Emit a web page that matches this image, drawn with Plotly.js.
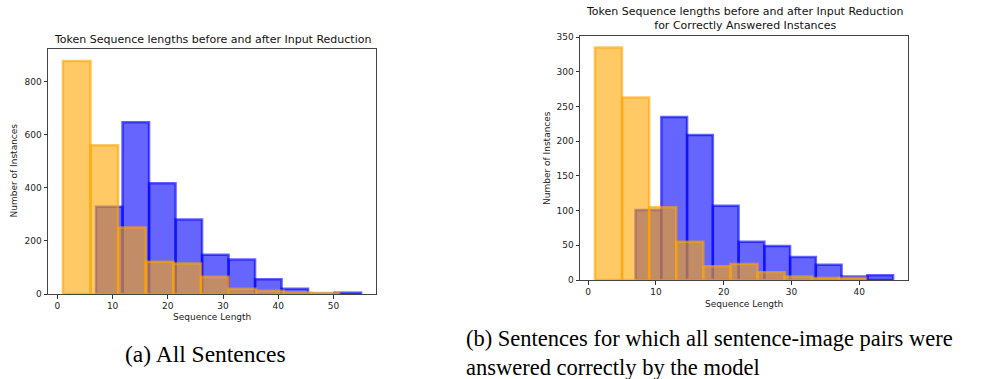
<!DOCTYPE html>
<html>
<head>
<meta charset="utf-8">
<script src="https://cdn.plot.ly/plotly-3.0.1.min.js"></script>
<style>html,body{margin:0;padding:0;background:#fff;}#chart{width:1004px;height:379px;}</style>
</head>
<body>
<div id="chart"></div>
<script>
// (a) All Sentences
const leftBeforeEdges = [7, 11.8, 16.6, 21.4, 26.2, 31, 35.8, 40.6, 45.4, 50.2, 55];
const leftBeforeCounts = [329, 648, 418, 281, 148, 130, 56, 20, 1, 5];
const leftAfterEdges = [1, 6, 11, 16, 21, 26, 31, 36, 41, 46, 51];
const leftAfterCounts = [879, 561, 251, 122, 115, 65, 20, 12, 6, 4];
// (b) Correctly answered
const rightBeforeEdges = [7, 10.8, 14.6, 18.4, 22.2, 26, 29.8, 33.6, 37.4, 41.2, 45];
const rightBeforeCounts = [101, 235, 209, 107, 55, 49, 33, 22, 5, 7];
const rightAfterEdges = [1, 5, 9, 13, 17, 21, 25, 29, 33, 37, 41];
const rightAfterCounts = [335, 263, 105, 55, 20, 23, 11, 5, 3, 3];

const leftXTicks = [0, 10, 20, 30, 40, 50];
const leftYTicks = [0, 200, 400, 600, 800];
const rightXTicks = [0, 10, 20, 30, 40];
const rightYTicks = [0, 50, 100, 150, 200, 250, 300, 350];

const titleA = "Token Sequence lengths before and after Input Reduction";
const titleB = "Token Sequence lengths before and after Input Reduction<br>for Correctly Answered Instances";
const xLabel = "Sequence Length";
const yLabel = "Number of Instances";
const captionA = "(a) All Sentences";
const captionB = "(b) Sentences for which all sentence-image pairs were<br>answered correctly by the model";

function histTrace(edges, counts, rgb, xa, ya) {
  const centers = [], widths = [];
  for (let i = 0; i < counts.length; i++) {
    centers.push((edges[i] + edges[i + 1]) / 2);
    widths.push(edges[i + 1] - edges[i]);
  }
  return {
    type: 'bar', x: centers, y: counts, width: widths,
    xaxis: xa, yaxis: ya,
    marker: { color: 'rgba(' + rgb + ',0.6)', line: { color: 'rgba(' + rgb + ',0.6)', width: 2.5 } },
    hoverinfo: 'x+y', showlegend: false
  };
}

const BLUE = '0,0,255', ORANGE = '255,165,0';
const data = [
  histTrace(leftBeforeEdges, leftBeforeCounts, BLUE, 'x', 'y'),
  histTrace(leftAfterEdges, leftAfterCounts, ORANGE, 'x', 'y'),
  histTrace(rightBeforeEdges, rightBeforeCounts, BLUE, 'x2', 'y2'),
  histTrace(rightAfterEdges, rightAfterCounts, ORANGE, 'x2', 'y2')
];

const W = 1004, H = 379;
const px = v => v / W, py = v => (H - v) / H;
const tickFont = { family: 'DejaVu Sans', size: 9, color: '#222' };
const axBase = {
  showline: true, mirror: true, linecolor: '#444', linewidth: 1,
  ticks: 'outside', ticklen: 3.5, tickwidth: 1, tickcolor: '#333',
  showgrid: false, zeroline: false, tickfont: tickFont, tickmode: 'array', fixedrange: true
};
const titleFont = { family: 'DejaVu Sans', size: 11, color: '#111' };
const labFont = { family: 'DejaVu Sans', size: 9, color: '#222' };
const capFont = { family: 'Liberation Serif', size: 23.5, color: '#000' };
const capFontB = { family: 'Liberation Serif', size: 22.5, color: '#000' };

const layout = {
  width: W, height: H,
  margin: { l: 0, r: 0, t: 0, b: 0 },
  paper_bgcolor: '#fff', plot_bgcolor: '#fff',
  barmode: 'overlay', bargap: 0,
  xaxis: Object.assign({}, axBase, { domain: [px(48), px(376)], range: [-1.7, 57.7], tickvals: leftXTicks, anchor: 'y' }),
  yaxis: Object.assign({}, axBase, { domain: [py(294), py(49)], range: [0, 924], tickvals: leftYTicks, anchor: 'x' }),
  xaxis2: Object.assign({}, axBase, { domain: [px(580), px(908)], range: [-1.2, 47.2], tickvals: rightXTicks, anchor: 'y2' }),
  yaxis2: Object.assign({}, axBase, { domain: [py(280), py(36)], range: [0, 351.75], tickvals: rightYTicks, anchor: 'x2' }),
  annotations: [
    { text: titleA, x: px(212), y: py(39.5), xref: 'paper', yref: 'paper', showarrow: false, xanchor: 'center', yanchor: 'middle', font: titleFont },
    { text: titleB, x: px(744), y: py(18.5), xref: 'paper', yref: 'paper', showarrow: false, xanchor: 'center', yanchor: 'middle', align: 'center', font: titleFont },
    { text: xLabel, x: px(212), y: py(317), xref: 'paper', yref: 'paper', showarrow: false, xanchor: 'center', yanchor: 'middle', font: labFont },
    { text: xLabel, x: px(744), y: py(303.5), xref: 'paper', yref: 'paper', showarrow: false, xanchor: 'center', yanchor: 'middle', font: labFont },
    { text: yLabel, x: px(13.5), y: py(171), xref: 'paper', yref: 'paper', showarrow: false, textangle: -90, xanchor: 'center', yanchor: 'middle', font: labFont },
    { text: yLabel, x: px(547), y: py(158), xref: 'paper', yref: 'paper', showarrow: false, textangle: -90, xanchor: 'center', yanchor: 'middle', font: labFont },
    { text: captionA, x: px(205), y: py(354), xref: 'paper', yref: 'paper', showarrow: false, xanchor: 'center', yanchor: 'middle', font: capFont },
    { text: captionB, x: px(465), y: py(353), xref: 'paper', yref: 'paper', showarrow: false, xanchor: 'left', yanchor: 'middle', align: 'left', borderpad: 0, font: capFontB }
  ]
};

Plotly.newPlot('chart', data, layout, { staticPlot: true, displayModeBar: false });
</script>
</body>
</html>
